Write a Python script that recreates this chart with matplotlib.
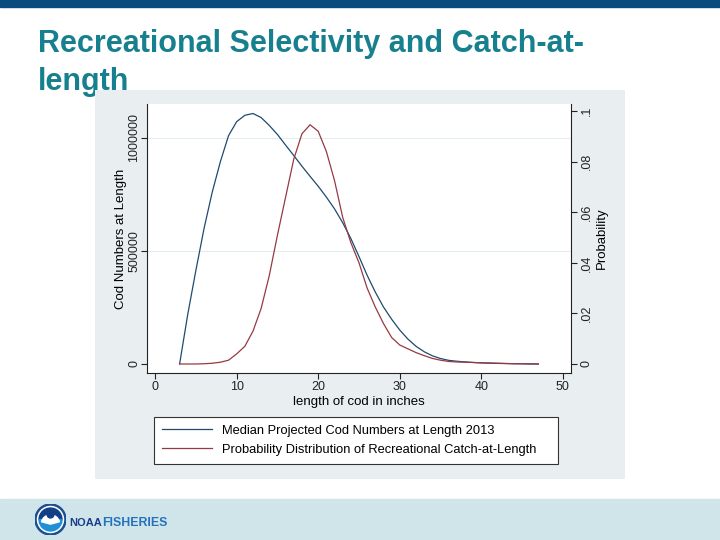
import numpy as np
import matplotlib
matplotlib.use("Agg")
import matplotlib.pyplot as plt
from matplotlib.patches import Rectangle, Circle, Wedge
from matplotlib.lines import Line2D

# lengths of cod in inches
lengths = list(range(3, 48))

# median projected cod numbers at length 2013
cod_numbers = [0, 220000, 415000, 600000, 760000, 895000, 1010000, 1072000,
               1100000, 1108000, 1090000, 1055000, 1015000, 968000, 922000,
               875000, 830000, 786000, 738000, 686000, 625000, 555000, 475000,
               392000, 318000, 252000, 198000, 150000, 110000, 78000, 54000,
               36000, 24000, 16000, 12000, 9000, 6500, 4500, 3500, 2500, 1800,
               1200, 800, 400, 0]

# probability distribution of recreational catch-at-length
catch_prob = [0, 0, 0, 0.0001, 0.0003, 0.0007, 0.0015, 0.004, 0.007, 0.013,
              0.022, 0.035, 0.051, 0.066, 0.081, 0.091, 0.0946, 0.092, 0.084,
              0.0725, 0.058, 0.048, 0.04, 0.03, 0.0225, 0.016, 0.0105, 0.0075,
              0.006, 0.0045, 0.0033, 0.0022, 0.0015, 0.001, 0.0008, 0.0007,
              0.0006, 0.0005, 0.0004, 0.0003, 0.0002, 0.0001, 0.0001, 0, 0]

x_ticks = [0, 10, 20, 30, 40, 50]
left_ticks = [0, 500000, 1000000]
right_ticks = [0, 0.02, 0.04, 0.06, 0.08, 0.1]
right_labels = ["0", ".02", ".04", ".06", ".08", ".1"]

series_labels = ["Median Projected Cod Numbers at Length 2013",
                 "Probability Distribution of Recreational Catch-at-Length"]

navy = "#1f4a6e"
maroon = "#953a42"

plt.rcParams['font.family'] = ['Liberation Sans', 'DejaVu Sans']

W, H = 720, 540
fig = plt.figure(figsize=(7.2, 5.4), dpi=100)
fig.patch.set_facecolor("white")

def fx(px):
    return px / W

def fy(py):
    return 1 - py / H

# slide decorations
fig.patches.append(Rectangle((0, fy(7)), 1, 7 / H, transform=fig.transFigure,
                             color="#0b4a7c", zorder=0))
fig.patches.append(Rectangle((0, 0), 1, fy(499), transform=fig.transFigure,
                             color="#cfe5ea", zorder=0))

title_color = "#17808f"
fig.text(fx(38), fy(52), "Recreational Selectivity and Catch-at-", color=title_color,
         fontsize=22, fontweight="bold", ha="left", va="baseline", zorder=1)
fig.text(fx(38), fy(90), "length", color=title_color,
         fontsize=22, fontweight="bold", ha="left", va="baseline", zorder=1)

# chart image background (covers part of title)
bg = fig.add_axes([fx(95), fy(479), fx(625) - fx(95), fy(90) - fy(479)])
bg.set_facecolor("#e9eff1")
bg.set_xticks([])
bg.set_yticks([])
for s in bg.spines.values():
    s.set_visible(False)
bg.set_zorder(2)

# main plot
ax = fig.add_axes([fx(147), fy(373), fx(571) - fx(147), fy(104) - fy(373)])
ax.set_zorder(3)
ax.set_facecolor("white")
ax.plot(lengths, cod_numbers, color=navy, lw=0.9)
ax.set_xlim(-1, 51)
ax.set_ylim(-40000, 1150000)
ax.set_xticks(x_ticks)
ax.set_yticks(left_ticks)
ax.set_yticklabels([str(v) for v in left_ticks], rotation=90, va="center")
for v in left_ticks[1:]:
    ax.axhline(v, color="#e2eef0", lw=0.8, zorder=0)
ax.spines["top"].set_visible(False)
ax.spines["right"].set_visible(False)
for s in ["left", "bottom"]:
    ax.spines[s].set_linewidth(0.8)
    ax.spines[s].set_color("#222222")
ax.tick_params(labelsize=9, length=4, width=0.8, colors="#222222", pad=2)
ax.tick_params(axis="y", pad=1)
ax.set_xlabel("length of cod in inches", fontsize=9.5, labelpad=2)
ax.set_ylabel("Cod Numbers at Length", fontsize=9.5, labelpad=1)

ax2 = ax.twinx()
ax2.plot(lengths, catch_prob, color=maroon, lw=0.9)
ax2.set_ylim(-0.00356, 0.1028)
ax2.set_yticks(right_ticks)
ax2.set_yticklabels(right_labels, rotation=90, va="center")
ax2.spines["top"].set_visible(False)
ax2.spines["left"].set_visible(False)
ax2.spines["bottom"].set_visible(False)
ax2.spines["right"].set_linewidth(0.8)
ax2.spines["right"].set_color("#222222")
ax2.tick_params(labelsize=9, length=4, width=0.8, colors="#222222", pad=3)
ax2.set_ylabel("Probability", fontsize=9.5, labelpad=2)

# legend
handles = [Line2D([], [], color=navy, lw=0.9), Line2D([], [], color=maroon, lw=0.9)]
leg = fig.legend(handles, series_labels, loc="upper left",
                 bbox_to_anchor=(fx(154), fy(462), fx(558) - fx(154), fy(417) - fy(462)),
                 mode="expand", fontsize=9.3, frameon=True, fancybox=False,
                 edgecolor="#333333", framealpha=1, handlelength=3.9,
                 handletextpad=0.75, borderaxespad=0, labelspacing=0.55,
                 borderpad=0.6)
leg.get_frame().set_linewidth(0.8)
leg.set_zorder(4)

# NOAA logo
logo = fig.add_axes([fx(35), fy(535), 31 / W, 31 / H])
logo.set_zorder(5)
logo.set_xlim(-1, 1)
logo.set_ylim(-1, 1)
logo.set_aspect("equal")
logo.axis("off")
logo.add_patch(Circle((0, 0), 1, color="#1c4f91"))
logo.add_patch(Circle((0, 0), 0.84, color="white"))
logo.add_patch(Wedge((0, 0), 0.74, 0, 180, color="#123f86"))
logo.add_patch(Wedge((0, 0), 0.74, 180, 360, color="#1f8fd6"))
logo.add_patch(Wedge((0, -0.3), 0.6, 15, 165, color="white"))
logo.add_patch(Circle((0, 0.32), 0.22, color="#123f86"))

t1 = fig.text(fx(69), fy(526), "NOAA", color="#1a3c8c", fontsize=8,
              fontweight="bold", va="baseline", zorder=5)
renderer = fig.canvas.get_renderer()
ext = t1.get_window_extent(renderer)
fig.text(ext.x1 / W, fy(526), "FISHERIES", color="#2472bd", fontsize=8.8,
         fontweight="bold", va="baseline", zorder=5)

fig.savefig("out.png", dpi=100)
